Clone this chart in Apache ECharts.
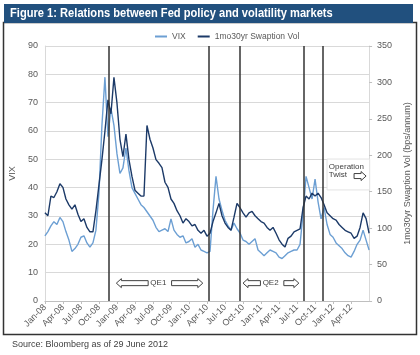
<!DOCTYPE html>
<html><head><meta charset="utf-8">
<script src="https://cdn.jsdelivr.net/npm/echarts@6/dist/echarts.min.js"></script>
<style>html,body{margin:0;padding:0;background:#fff}#c{width:420px;height:355px}</style>
</head><body><div id="c"></div>
<script>
// x values are months since Jan-2008, sampled every half month
const STEP = 0.5;
const tickLabels = ['Jan-08','Apr-08','Jul-08','Oct-08','Jan-09','Apr-09','Jul-09','Oct-09','Jan-10','Apr-10','Jul-10','Oct-10','Jan-11','Apr-11','Jul-11','Oct-11','Jan-12','Apr-12'];
const vix = [23,24.5,26.5,28,27,29.5,28,24.5,21.5,17.5,
  18.5,20,22.5,23,20.5,19,20.5,25,38,62,
  79,58,68,62,52,45,47,54,46,40,
  38,36,34,33,31.5,30,28.5,26,24.5,25,
  25.5,24.5,29,25,23.5,22.5,23,20.5,21,22,
  19,20,18,17.5,17,17.5,32,44,36,32,
  28.5,26.5,25,27.5,25.5,24,21.5,21,20,21,
  22,18,17,16,17,18,17.5,17,15.5,15,
  16,17,17.5,18,18,20,31,44,40,36,
  43,35,29,33,27,23.5,22.5,20.5,19.5,18.5,
  17,16,15.5,17.5,20,21.5,25,21.5,18];
const swaption = [121,117,144,142,150,161,156,140,132,126,
  132,119,109,113,101,95,95,124,159,194,
  233,276,257,307,272,222,198,229,194,171,
  152,148,144,144,241,222,210,194,189,183,
  163,156,140,134,124,117,107,113,109,103,
  105,97,93,97,89,93,109,121,134,117,
  107,101,97,115,134,128,121,115,121,123,
  117,113,109,107,101,97,101,93,84,78,
  74,86,89,95,97,99,128,144,140,148,
  144,148,142,132,121,117,113,111,105,101,
  97,95,93,86,89,101,121,113,93];
const policyLines = [10.6, 27.3, 32.5, 43.1, 46.2];

const LIGHT = '#6c9fd3', DARK = '#1c3a68', GREY = '#595959', FONT = 'Liberation Sans';
const chart = echarts.init(document.getElementById('c'), null, {renderer: 'canvas'});
chart.setOption({
  animation: false,
  textStyle: {fontFamily: FONT},
  grid: {left: 40, right: 48, top: 46, bottom: 54},
  legend: {top: 27, left: 150, icon: 'rect', itemWidth: 12, itemHeight: 2, itemGap: 12,
    textStyle: {fontSize: 8.5, color: GREY, fontFamily: FONT}, data: ['VIX', '1mo30yr Swaption Vol']},
  xAxis: {type: 'value', min: 0, max: 54, interval: 3, splitLine: {show: false},
    axisLine: {lineStyle: {color: '#bfbfbf'}},
    axisTick: {show: true, length: 3, lineStyle: {color: '#bfbfbf'}},
    axisLabel: {rotate: 45, fontSize: 9, color: GREY, margin: 5, showMaxLabel: false,
      formatter: v => tickLabels[Math.round(v / 3)] || ''}},
  yAxis: [
    {type: 'value', min: 0, max: 90, interval: 10, name: 'VIX', nameLocation: 'middle', nameGap: 22, nameRotate: 90,
      nameTextStyle: {fontSize: 9, color: GREY},
      axisLine: {show: true, lineStyle: {color: '#d9d9d9'}}, axisTick: {show: false},
      axisLabel: {fontSize: 9, color: GREY, margin: 7},
      splitLine: {lineStyle: {color: '#d9d9d9'}}},
    {type: 'value', min: 0, max: 350, interval: 50, position: 'right',
      name: '1mo30yr Swaption Vol (bps/annum)', nameLocation: 'middle', nameGap: 27, nameRotate: 90,
      nameTextStyle: {fontSize: 9, color: GREY},
      axisLine: {show: true, lineStyle: {color: '#d9d9d9'}},
      axisTick: {show: true, length: 3, lineStyle: {color: '#bfbfbf'}},
      axisLabel: {fontSize: 9, color: GREY, margin: 8}, splitLine: {show: false}}
  ],
  series: [
    {name: 'VIX', type: 'line', yAxisIndex: 0, showSymbol: false, symbol: 'none',
      lineStyle: {color: LIGHT, width: 1.4}, itemStyle: {color: LIGHT},
      data: vix.map((v, i) => [i * STEP, v])},
    {name: '1mo30yr Swaption Vol', type: 'line', yAxisIndex: 1, showSymbol: false, symbol: 'none',
      lineStyle: {color: DARK, width: 1.4}, itemStyle: {color: DARK},
      data: swaption.map((v, i) => [i * STEP, v]),
      markLine: {silent: true, symbol: 'none', label: {show: false},
        lineStyle: {color: '#333', width: 1.5, type: 'solid'},
        data: policyLines.map(m => ({xAxis: m}))}}
  ]
});

// annotations in data coordinates (months, VIX units)
const arrows = [
  {from: 17.2, to: 11.9, y: 6.3}, {from: 21.1, to: 26.3, y: 6.3},
  {from: 35.9, to: 33.0, y: 6.3}, {from: 39.8, to: 42.3, y: 6.3},
  {from: 51.5, to: 53.5, y: 44.1}
];
const labels = [
  {text: 'QE1', x: 18.9, y: 6.3, align: 'center'},
  {text: 'QE2', x: 37.6, y: 6.3, align: 'center'},
  {text: 'Operation', x: 47.3, y: 47.3, align: 'left'},
  {text: 'Twist', x: 47.3, y: 44.5, align: 'left'}
];
const twistBox = {x1: 47.0, x2: 54.1, y1: 50.1, y2: 39.2};

const px = (x, y) => chart.convertToPixel({gridIndex: 0}, [x, y]);
function blockArrow(a) {
  const [xt, yc] = px(a.from, a.y);
  const [xh] = px(a.to, a.y);
  const dir = Math.sign(xh - xt), hl = 5, sh = 2.5, hh = 4.5, xb = xh - dir * hl;
  return {type: 'polygon', z: 100, shape: {points: [[xt, yc - sh], [xb, yc - sh], [xb, yc - hh], [xh, yc], [xb, yc + hh], [xb, yc + sh], [xt, yc + sh]]},
    style: {fill: '#fff', stroke: '#404040', lineWidth: 1}};
}
const g = [];
g.push({type: 'rect', z: 0, shape: {x: 3.5, y: 22.5, width: 413, height: 312}, style: {fill: 'none', stroke: '#333', lineWidth: 1.5}});
g.push({type: 'rect', z: 1, shape: {x: 4, y: 4, width: 409, height: 19}, style: {fill: '#21507e'}});
g.push({type: 'text', z: 2, x: 10, y: 14, scaleX: 0.89, style: {text: 'Figure 1: Relations between Fed policy and volatility markets', fill: '#fff', font: 'bold 12.5px Liberation Sans', textVerticalAlign: 'middle'}});
g.push({type: 'text', z: 2, x: 12, y: 345, style: {text: 'Source: Bloomberg as of 29 June 2012', fill: '#404040', font: '9px Liberation Sans', textVerticalAlign: 'middle'}});
const [bx1, by1] = px(twistBox.x1, twistBox.y1), [bx2, by2] = px(twistBox.x2, twistBox.y2);
g.push({type: 'rect', z: 90, shape: {x: bx1, y: by1, width: bx2 - bx1, height: by2 - by1}, style: {fill: '#fff', stroke: '#e3e3e3', lineWidth: 1}});
arrows.forEach(a => g.push(blockArrow(a)));
labels.forEach(l => {
  const [x, y] = px(l.x, l.y);
  g.push({type: 'text', z: 101, x, y, style: {text: l.text, fill: '#404040', font: '8px Liberation Sans', textAlign: l.align, textVerticalAlign: 'middle'}});
});
chart.setOption({graphic: g});
</script></body></html>
